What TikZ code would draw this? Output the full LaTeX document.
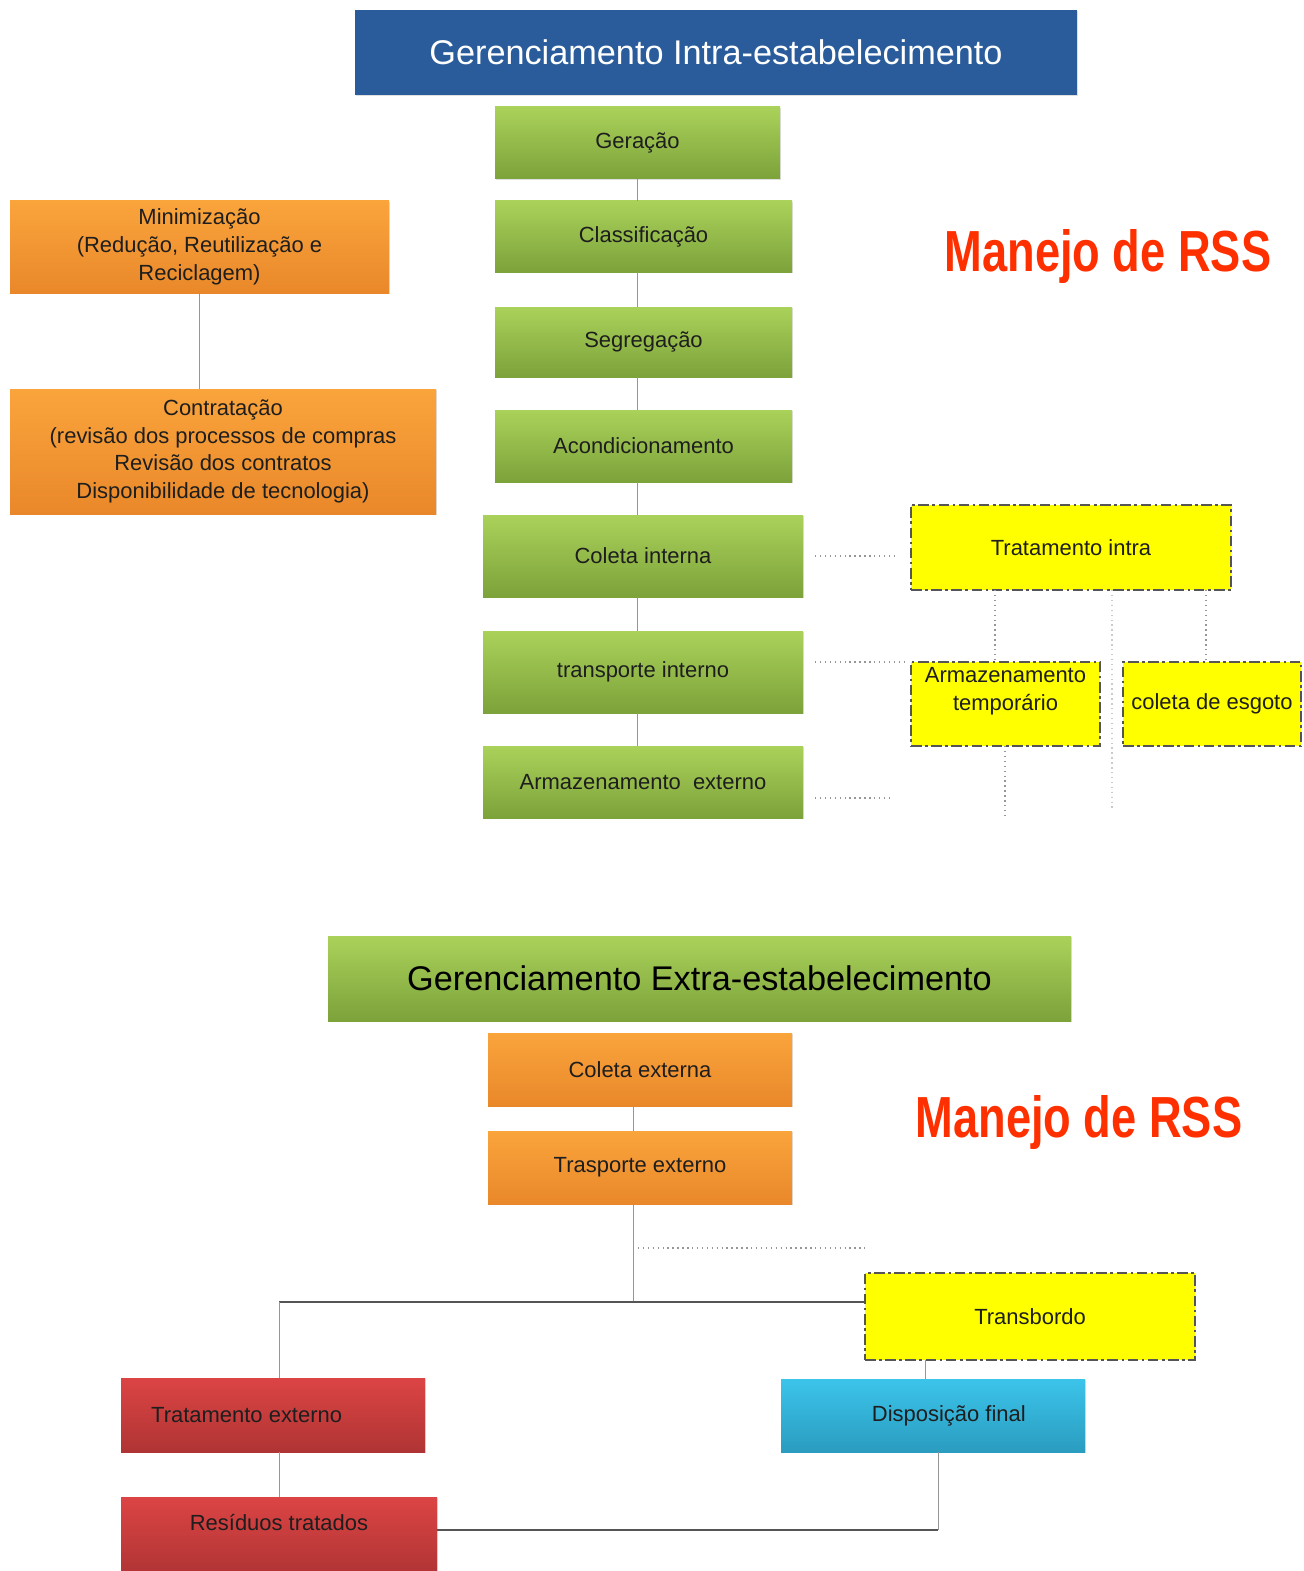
\documentclass[tikz,border=0pt]{standalone}
\usepackage{fontspec}
\setmainfont{Liberation Sans}
\newfontfamily\condensed{Liberation Sans}[FakeStretch=0.78]
\usetikzlibrary{shadows}
\definecolor{titleblue}{RGB}{42,92,156}
\definecolor{gTop}{RGB}{170,210,90}
\definecolor{gBot}{RGB}{124,162,58}
\definecolor{oTop}{RGB}{250,164,60}
\definecolor{oBot}{RGB}{233,136,42}
\definecolor{rTop}{RGB}{220,68,68}
\definecolor{rBot}{RGB}{176,52,52}
\definecolor{cTop}{RGB}{60,196,234}
\definecolor{cBot}{RGB}{42,156,192}
\definecolor{yel}{RGB}{255,255,0}
\definecolor{txt}{RGB}{30,30,30}
\definecolor{manred}{RGB}{255,48,0}
\definecolor{linegray}{RGB}{150,150,150}
\definecolor{darkline}{RGB}{85,85,85}
\tikzset{
  bx/.style n args={4}{minimum width={(#3-#1)*0.02cm}, minimum height={(#4-#2)*0.02cm}, at={({(#1+#3)/2},{(#2+#4)/2})}},
  box/.style={rectangle, inner sep=1pt, outer sep=0pt, align=center, text=txt,
    font=\fontsize{12.5}{15.8}\selectfont,
    drop shadow={shadow xshift=0.8pt, shadow yshift=-0.8pt, opacity=0.25}},
  greenbox/.style={box, top color=gTop, bottom color=gBot},
  orangebox/.style={box, top color=oTop, bottom color=oBot},
  redbox/.style={box, top color=rTop, bottom color=rBot},
  cyanbox/.style={box, top color=cTop, bottom color=cBot},
  yellowbox/.style={rectangle, inner sep=1pt, outer sep=0pt, align=center, text=txt,
    font=\fontsize{12.5}{15.8}\selectfont, fill=yel, draw=darkline, line width=1.2pt,
    dash pattern=on 6pt off 2pt on 1.5pt off 2pt},
  titlefont/.style={font=\fontsize{19.5}{22}\selectfont},
  manejo/.style={text=manred, font=\condensed\bfseries\fontsize{33}{36}\selectfont},
  thinline/.style={draw=linegray, line width=0.5pt},
  dotline/.style={draw=linegray, line width=0.8pt, dotted},
  thickline/.style={draw=darkline, line width=1.4pt}
}
\begin{document}
\begin{tikzpicture}[x=0.02cm,y=-0.02cm]
\useasboundingbox (0,0) rectangle (1303,1571);
\clip (0,0) rectangle (1303,1571);
\fill[white] (0,0) rectangle (1303,1571);

% ---------- Intra ----------
\node[box, fill=titleblue, text=white, titlefont, bx={355}{10}{1077}{95}] (title) {Gerenciamento Intra-estabelecimento};
\node[greenbox, bx={495}{107}{780}{179}] (ger) {Geração};
\node[greenbox, bx={495}{201}{792}{272}] (cla) {Classificação};
\node[greenbox, bx={495}{307}{792}{377}] (seg) {Segregação};
\node[greenbox, bx={495}{410}{792}{482}] (aco) {Acondicionamento};
\node[greenbox, bx={483}{515}{803}{597}] (col) {Coleta interna};
\node[greenbox, bx={483}{631}{803}{713}] (tra) {transporte interno};
\node[greenbox, bx={483}{746}{803}{818}] (arm) {Armazenamento\ \ externo};

\node[orangebox, bx={10}{201}{389}{293}] (min) {Minimização\\(Redução, Reutilização e\\Reciclagem)};
\node[orangebox, bx={10}{389}{436}{514}] (con) {Contratação\\(revisão dos processos de compras\\Revisão dos contratos\\Disponibilidade de tecnologia)};

\node[yellowbox, bx={911}{505}{1231}{590}] (ti) {Tratamento intra};
\node[yellowbox, text depth=17pt, bx={911}{662}{1100}{746}] (at) {Armazenamento\\temporário};
\node[yellowbox, bx={1123}{662}{1301}{746}] (esg) {coleta de esgoto};

\node[manejo] (man1) at (1108,257) {Manejo de RSS};

% spine connectors
\coordinate (sp) at (637,0);
\draw[thinline] (ger.south -| sp) -- (cla.north -| sp);
\draw[thinline] (cla.south -| sp) -- (seg.north -| sp);
\draw[thinline] (seg.south -| sp) -- (aco.north -| sp);
\draw[thinline] (aco.south -| sp) -- (col.north -| sp);
\draw[thinline] (col.south -| sp) -- (tra.north -| sp);
\draw[thinline] (tra.south -| sp) -- (arm.north -| sp);
\draw[thinline] (min.south) -- (min.south |- con.north);

% dotted links
\coordinate (d1a) at (815,556);
\coordinate (d1b) at (898,556);
\coordinate (d2a) at (815,662);
\coordinate (d2b) at (905,662);
\coordinate (d3a) at (815,798);
\coordinate (d3b) at (893,798);
\draw[dotline] (d1a) -- (d1b);
\draw[dotline] (d2a) -- (d2b);
\draw[dotline] (d3a) -- (d3b);
\coordinate (v1) at (995,0);
\coordinate (v2) at (1206,0);
\coordinate (v3) at (1112,0);
\coordinate (v3e) at (1112,810);
\coordinate (v4) at (1005,0);
\coordinate (v4e) at (1005,818);
\draw[dotline] (ti.south -| v1) -- (at.north -| v1);
\draw[dotline] (ti.south -| v2) -- (esg.north -| v2);
\draw[dotline, draw=linegray!50] (ti.south -| v3) -- (v3e);
\draw[dotline] (at.south -| v4) -- (v4e);

% ---------- Extra ----------
\node[greenbox, titlefont, text=black, bx={328}{936}{1071}{1021}] (ext) {Gerenciamento Extra-estabelecimento};
\node[orangebox, bx={488}{1033}{792}{1106}] (cext) {Coleta externa};
\node[orangebox, bx={488}{1131}{792}{1204}] (text) {Trasporte externo};
\node[manejo] (man2) at (1079,1122) {Manejo de RSS};

\node[yellowbox, bx={865}{1273}{1195}{1360}] (tb) {Transbordo};
\node[redbox, bx={121}{1378}{425}{1452}] (tx) {\hspace*{-30pt}Tratamento externo};
\node[cyanbox, bx={781}{1379}{1085}{1452}] (dis) {\hspace*{18pt}Disposição final};
\node[redbox, text depth=16pt, bx={121}{1497}{437}{1575}] (res) {Resíduos tratados};

\coordinate (sp2) at (633,0);
\coordinate (j1) at (279,1302);
\coordinate (j2) at (865,1302);
\coordinate (dt) at (865,1248);
\coordinate (c925) at (925,0);
\coordinate (c938) at (938,0);
\coordinate (hb) at (0,1530);
\draw[thinline] (cext.south -| sp2) -- (text.north -| sp2);
\draw[thinline] (text.south -| sp2) -- (sp2 |- j1);
\draw[dotline] (sp2 |- dt) -- (dt);
\draw[thickline] (j1) -- (j2);
\draw[thinline] (j1) -- (j1 |- tx.north);
\draw[thinline] (tx.south -| j1) -- (res.north -| j1);
\draw[thinline] (tb.south -| c925) -- (dis.north -| c925);
\draw[thinline] (dis.south -| c938) -- (c938 |- hb);
\draw[thickline] (c938 |- hb) -- (res.east |- hb);
\end{tikzpicture}
\end{document}
